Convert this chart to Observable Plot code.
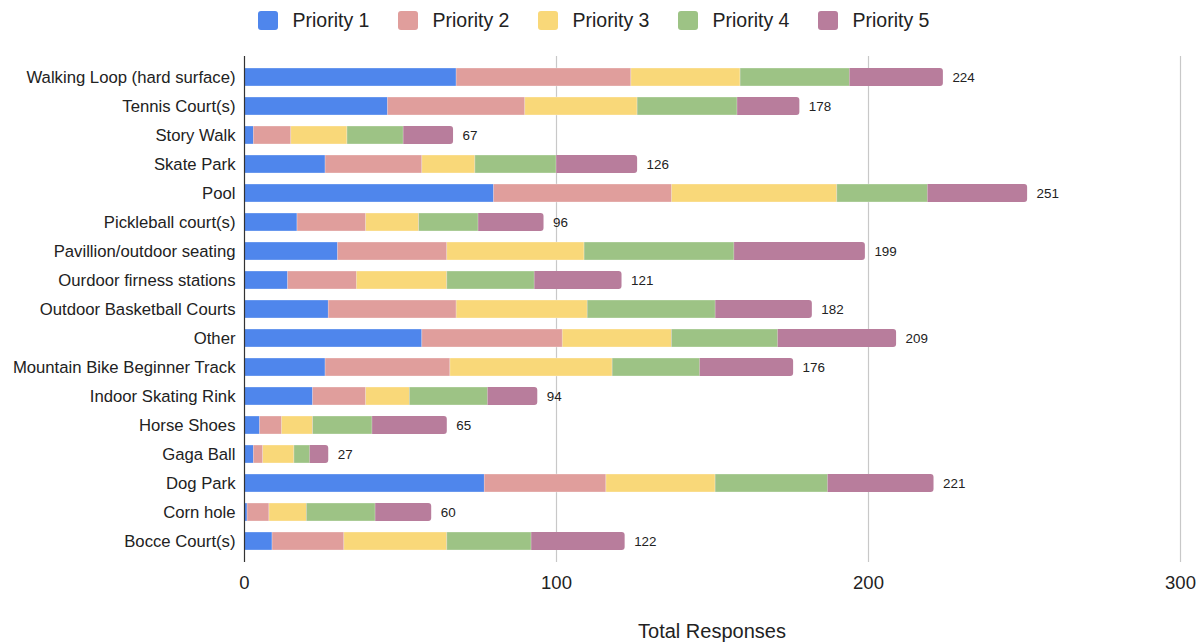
<!DOCTYPE html>
<html>
<head>
<meta charset="utf-8">
<script src="https://cdn.jsdelivr.net/npm/d3@7"></script>
<script src="https://cdn.jsdelivr.net/npm/@observablehq/plot@0.6"></script>
<style>
  html, body { margin: 0; padding: 0; background: #fff; }
  body { width: 1201px; height: 644px; position: relative; overflow: hidden;
         font-family: "Liberation Sans", Arial, Helvetica, sans-serif; color: #222; }
  #legend { position: absolute; left: 258px; top: 0; height: 41px; display: flex; align-items: center; }
  .item { display: flex; align-items: center; width: 140px; }
  .sw { width: 20px; height: 19px; border-radius: 3px; margin-right: 14.5px; flex: none; }
  .lab { font-size: 19.5px; color: #222; white-space: nowrap; }
  #chart { position: absolute; left: 0; top: 40px; }
  #title { position: absolute; left: 244px; width: 936px; top: 621px; line-height: 20px;
           text-align: center; font-size: 20px; color: #222; }
</style>
</head>
<body>
<div id="legend"></div>
<div id="chart"></div>
<div id="title"></div>
<script>
const categories = [
  "Walking Loop (hard surface)", "Tennis Court(s)", "Story Walk", "Skate Park", "Pool",
  "Pickleball court(s)", "Pavillion/outdoor seating", "Ourdoor firness stations",
  "Outdoor Basketball Courts", "Other", "Mountain Bike Beginner Track", "Indoor Skating Rink",
  "Horse Shoes", "Gaga Ball", "Dog Park", "Corn hole", "Bocce Court(s)"
];
const priorities = ["Priority 1", "Priority 2", "Priority 3", "Priority 4", "Priority 5"];
const colors = ["#4f86ec", "#e09e9c", "#f9d879", "#9dc385", "#b87d9c"];

const priority1 = [68, 46, 3, 26, 80, 17, 30, 14, 27, 57, 26, 22, 5, 3, 77, 1, 9];
const priority2 = [56, 44, 12, 31, 57, 22, 35, 22, 41, 45, 40, 17, 7, 3, 39, 7, 23];
const priority3 = [35, 36, 18, 17, 53, 17, 44, 29, 42, 35, 52, 14, 10, 10, 35, 12, 33];
const priority4 = [35, 32, 18, 26, 29, 19, 48, 28, 41, 34, 28, 25, 19, 5, 36, 22, 27];
const priority5 = [30, 20, 16, 26, 32, 21, 42, 28, 31, 38, 30, 16, 24, 6, 34, 18, 30];
const xTicks = [0, 100, 200, 300];
const xTitle = "Total Responses";

const series = [priority1, priority2, priority3, priority4, priority5];

// long-form data
const segments = [];
categories.forEach((c, i) => {
  series.forEach((s, k) => segments.push({category: c, priority: priorities[k], value: s[i]}));
});
const totals = categories.map((c, i) => ({
  category: c,
  total: series.reduce((a, s) => a + s[i], 0)
}));

const font = '"Liberation Sans", Arial, Helvetica, sans-serif';

const chart = Plot.plot({
  width: 1201,
  height: 572,
  marginLeft: 244,
  marginRight: 21,
  marginTop: 16,
  marginBottom: 50,
  style: {fontFamily: font, color: "#222", background: "white", overflow: "visible"},
  x: {domain: [0, 300], label: null},
  y: {domain: categories, padding: 0.38, label: null},
  color: {domain: priorities, range: colors},
  marks: [
    Plot.gridX(xTicks.filter(t => t > 0), {stroke: "#c8c8c8", strokeOpacity: 1, strokeWidth: 1.2}),
    // rounded full-length bar (shows as the Priority 5 segment with rounded end)
    Plot.barX(totals, {x: "total", y: "category", fill: colors[4], rx: 3}),
    Plot.barX(segments.filter(d => d.priority !== priorities[4]),
      Plot.stackX({x: "value", y: "category", fill: "priority", order: priorities,
                   stroke: "white", strokeWidth: 0.6, strokeOpacity: 0.5})),
    Plot.ruleX([0], {stroke: "#333", strokeWidth: 1.2}),
    Plot.axisX(xTicks, {tickSize: 0, tickPadding: 13, fontSize: 18.5, label: null, tickFormat: d => String(d)}),
    Plot.axisY({tickSize: 0, tickPadding: 9, fontSize: 16.7, label: null}),
    Plot.text(totals, {x: "total", y: "category", text: d => String(d.total), dx: 9,
                       textAnchor: "start", fontSize: 13.4, fill: "#222"})
  ]
});
document.getElementById("chart").appendChild(chart);

// legend
const legend = document.getElementById("legend");
priorities.forEach((p, k) => {
  const item = document.createElement("div");
  item.className = "item";
  const sw = document.createElement("span");
  sw.className = "sw";
  sw.style.background = colors[k];
  const lab = document.createElement("span");
  lab.className = "lab";
  lab.textContent = p;
  item.appendChild(sw);
  item.appendChild(lab);
  legend.appendChild(item);
});
document.getElementById("title").textContent = xTitle;
</script>
</body>
</html>
